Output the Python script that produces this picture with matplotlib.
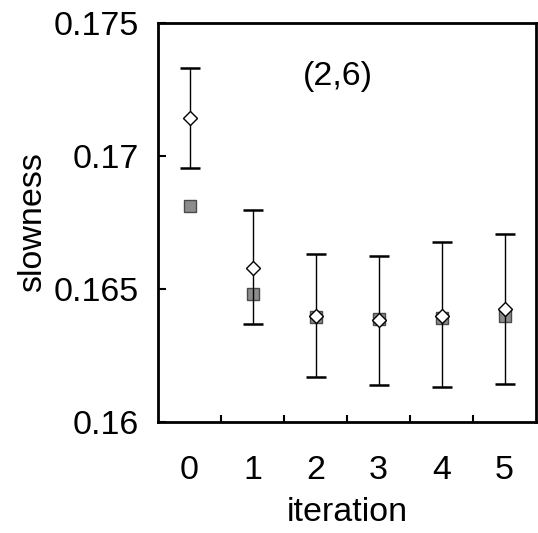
import matplotlib
matplotlib.use("Agg")
import matplotlib.pyplot as plt
import numpy as np

iterations = [0, 1, 2, 3, 4, 5]
mean_slowness = [0.17142, 0.16580, 0.16398, 0.16382, 0.16398, 0.16424]
err_upper = [0.17332, 0.16797, 0.16630, 0.16623, 0.16676, 0.16706]
err_lower = [0.16954, 0.16370, 0.16170, 0.16140, 0.16130, 0.16143]
true_slowness = [0.16812, 0.16481, 0.16394, 0.16386, 0.16392, 0.16400]
y_ticks = [0.16, 0.165, 0.17, 0.175]
y_tick_labels = ["0.16", "0.165", "0.17", "0.175"]

plt.rcParams['font.family'] = ['Liberation Sans', 'DejaVu Sans']
FS = 24.5

fig = plt.figure(figsize=(5.38, 5.33), dpi=100)
W, H = 538, 533
left, right, top, bottom = 158, 536, 23, 422
ax = fig.add_axes([left / W, 1 - bottom / H, (right - left) / W, (bottom - top) / H])

x = np.array(iterations)
mean = np.array(mean_slowness)
yerr = np.vstack([mean - np.array(err_lower), np.array(err_upper) - mean])

ax.plot(x, true_slowness, linestyle='none', marker='s', ms=8.6,
        mfc='#8c8c8c', mec='#4a4a4a', mew=1.0, zorder=3)
ax.errorbar(x, mean, yerr=yerr, fmt='none', ecolor='black', elinewidth=1.0,
            capsize=7, capthick=1.8, zorder=3.5)
ax.plot(x, mean, linestyle='none', marker='D', ms=7.0,
        mfc='white', mec='black', mew=1.0, zorder=4)

ax.set_xlim(-0.5, 5.5)
ax.set_ylim(0.16, 0.175)
ax.set_yticks(y_ticks)
ax.set_yticklabels(y_tick_labels)
ax.set_xticks(x)
ax.set_xticklabels([str(i) for i in iterations])
ax.set_xticks(np.arange(0.5, 5.0, 1.0), minor=True)

ax.tick_params(axis='x', which='major', length=0, pad=24, labelsize=FS)
ax.tick_params(axis='x', which='minor', direction='in', length=5, width=1.5)
ax.tick_params(axis='y', which='major', direction='in', length=6, width=1.5,
               pad=14, labelsize=FS)

for s in ax.spines.values():
    s.set_linewidth(2.0)

ax.set_ylabel('slowness', fontsize=FS)
ax.set_xlabel('iteration', fontsize=FS)
ax.yaxis.set_label_coords((48 - left) / (right - left), 0.5)
ax.xaxis.set_label_coords(0.5, (bottom - 497) / (bottom - top))

ax.text((338 - left) / (right - left), 1 - (76 - top) / (bottom - top), '(2,6)',
        fontsize=FS, ha='center', va='center', transform=ax.transAxes)

fig.savefig('out.png', dpi=100)
